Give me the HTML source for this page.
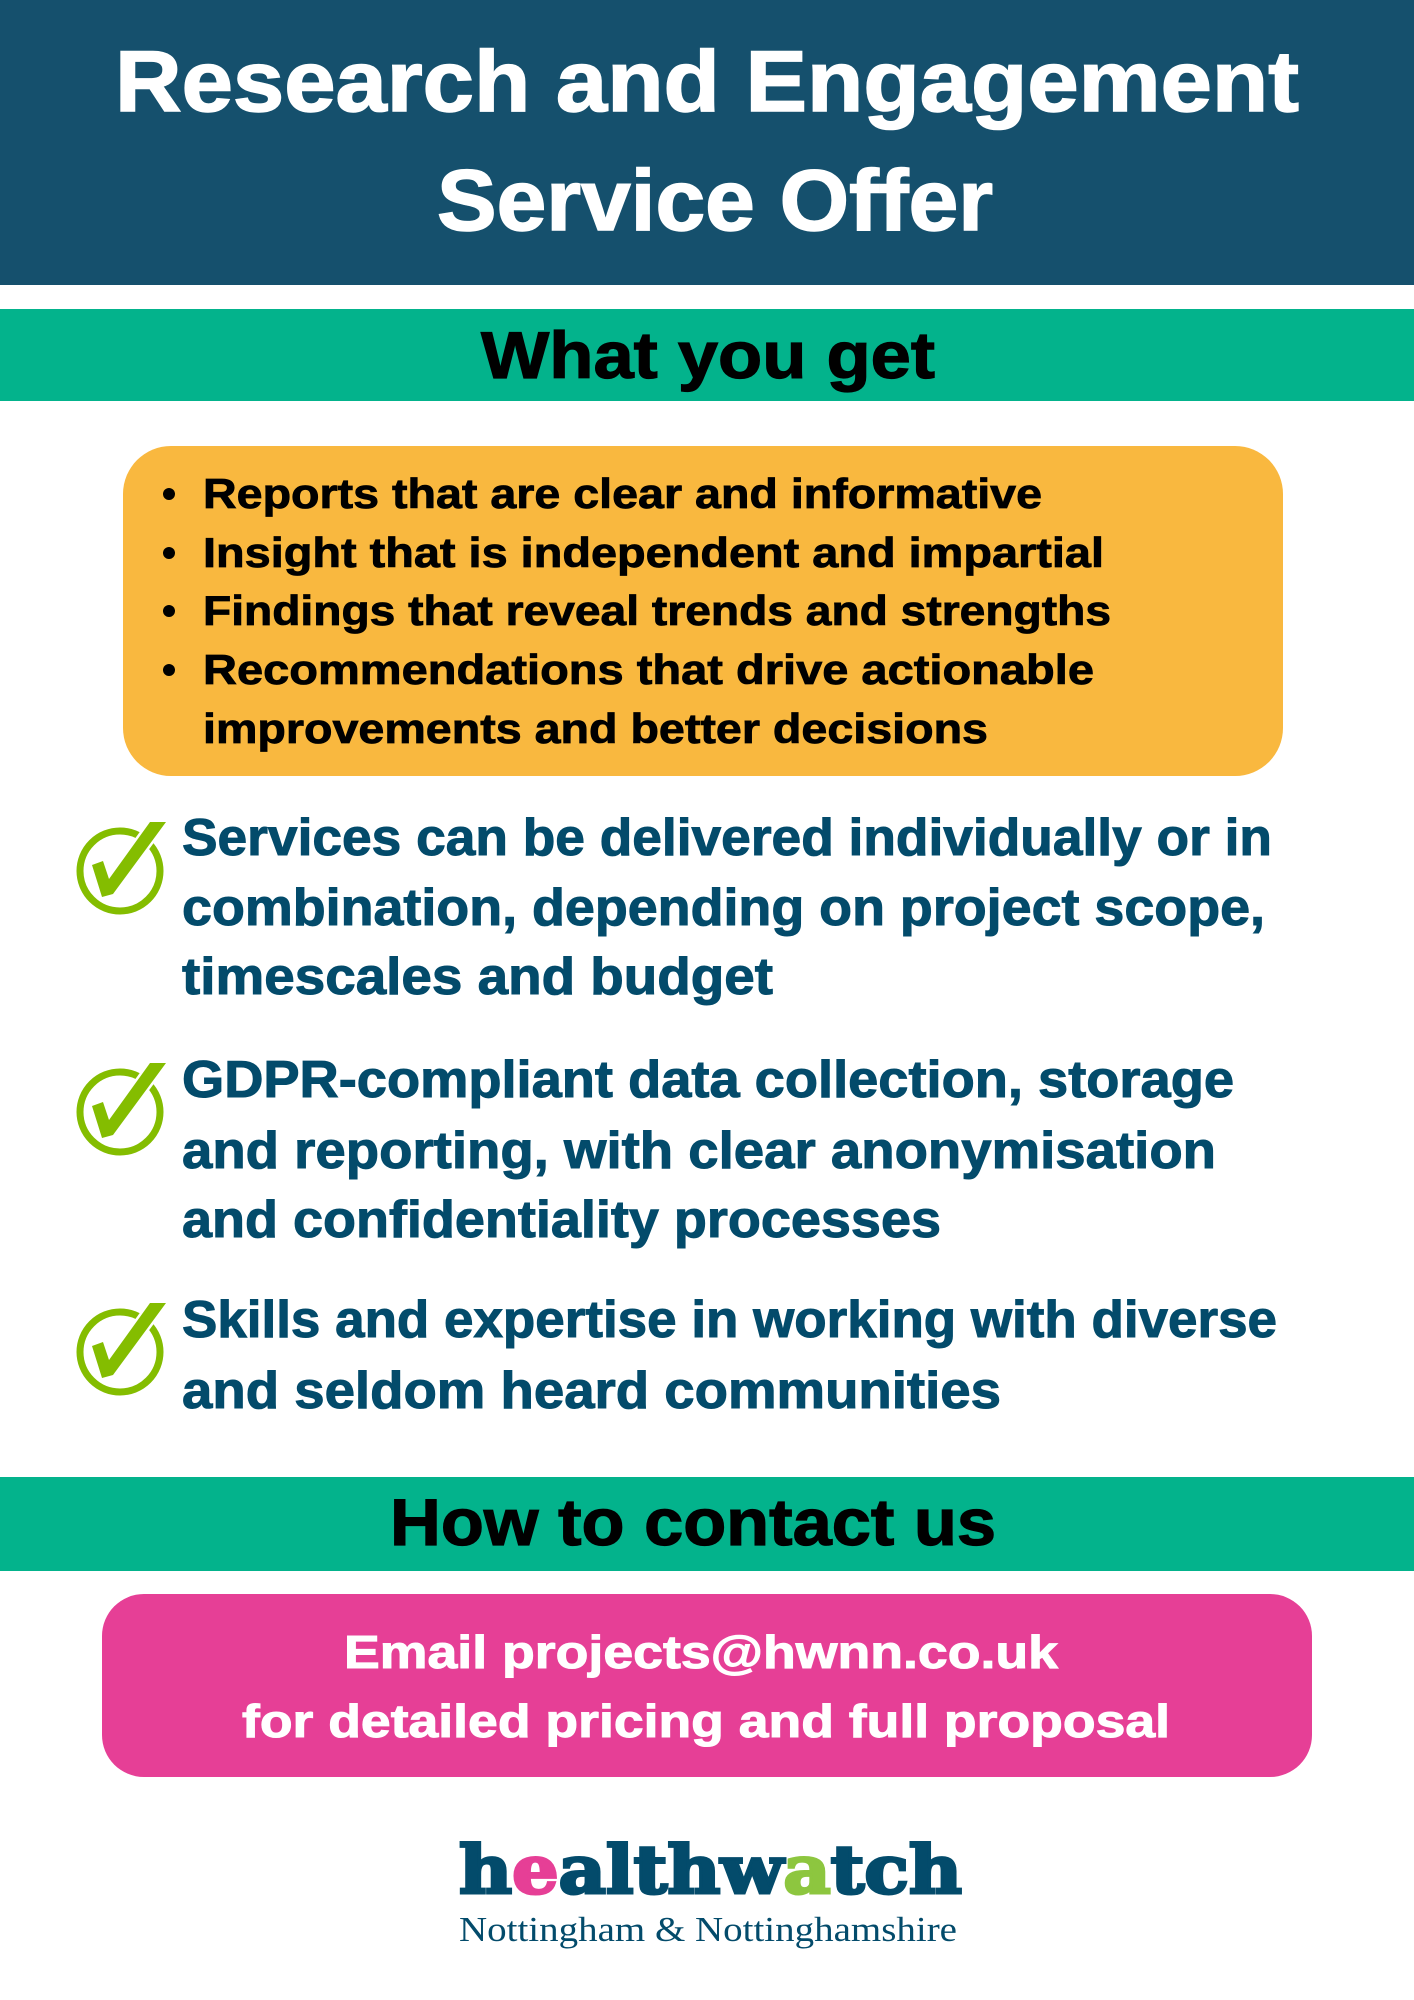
<!DOCTYPE html>
<html><head><meta charset="utf-8"><style>
html,body{margin:0;padding:0;background:#fff;}
svg{display:block;}
text{font-family:"Liberation Sans",sans-serif;font-weight:bold;}
</style></head><body>
<svg width="1414" height="2000" viewBox="0 0 1414 2000" xmlns="http://www.w3.org/2000/svg">
<defs>
<g id="chk">
<circle cx="120" cy="0" r="40" fill="none" stroke="#84bd00" stroke-width="7"/>
<polygon points="92,-6 103,-10 109,8 150,-49 166,-49 113,23 102,26" fill="#84bd00" stroke="#fff" stroke-width="5" paint-order="stroke" stroke-linejoin="round"/>
</g>
</defs>
<rect x="0" y="0" width="1414" height="285" fill="#15506d"/>
<g stroke="#fff" stroke-width="1.5">
<text x="707" y="111" font-size="86" fill="#fff" text-anchor="middle" textLength="1184" lengthAdjust="spacingAndGlyphs">Research and Engagement</text>
<text x="715" y="230" font-size="86" fill="#fff" text-anchor="middle" textLength="556" lengthAdjust="spacingAndGlyphs">Service Offer</text>
</g>

<rect x="0" y="309" width="1414" height="92" fill="#03b38c"/>
<text x="708" y="378" font-size="66" fill="#000" stroke="#000" stroke-width="1.2" text-anchor="middle" textLength="454" lengthAdjust="spacingAndGlyphs">What you get</text>

<rect x="123" y="446" width="1160" height="330" rx="48" fill="#f9b83f"/>
<g fill="#000">
<circle cx="169" cy="494" r="6"/><circle cx="169" cy="553" r="6"/><circle cx="169" cy="611" r="6"/><circle cx="169" cy="670" r="6"/>
</g>
<g font-size="42" fill="#000" stroke="#000" stroke-width="0.8">
<text x="203" y="508" textLength="839" lengthAdjust="spacingAndGlyphs">Reports that are clear and informative</text>
<text x="203" y="567" textLength="901" lengthAdjust="spacingAndGlyphs">Insight that is independent and impartial</text>
<text x="203" y="625" textLength="908" lengthAdjust="spacingAndGlyphs">Findings that reveal trends and strengths</text>
<text x="203" y="684" textLength="891" lengthAdjust="spacingAndGlyphs">Recommendations that drive actionable</text>
<text x="203" y="743" textLength="785" lengthAdjust="spacingAndGlyphs">improvements and better decisions</text>
</g>

<use href="#chk" transform="translate(0,871)"/>
<use href="#chk" transform="translate(0,1112)"/>
<use href="#chk" transform="translate(0,1352)"/>
<g font-size="52" fill="#034b6b" stroke="#034b6b" stroke-width="1">
<text x="182" y="855" textLength="1090" lengthAdjust="spacingAndGlyphs">Services can be delivered individually or in</text>
<text x="182" y="925" textLength="1083" lengthAdjust="spacingAndGlyphs">combination, depending on project scope,</text>
<text x="182" y="994" textLength="591" lengthAdjust="spacingAndGlyphs">timescales and budget</text>
<text x="182" y="1097" textLength="1052" lengthAdjust="spacingAndGlyphs">GDPR-compliant data collection, storage</text>
<text x="182" y="1168" textLength="1034" lengthAdjust="spacingAndGlyphs">and reporting, with clear anonymisation</text>
<text x="182" y="1237" textLength="759" lengthAdjust="spacingAndGlyphs">and confidentiality processes</text>
<text x="182" y="1337" textLength="1095" lengthAdjust="spacingAndGlyphs">Skills and expertise in working with diverse</text>
<text x="182" y="1408" textLength="819" lengthAdjust="spacingAndGlyphs">and seldom heard communities</text>
</g>

<rect x="0" y="1477" width="1414" height="94" fill="#03b38c"/>
<text x="693" y="1545" font-size="66" fill="#000" stroke="#000" stroke-width="1.2" text-anchor="middle" textLength="606" lengthAdjust="spacingAndGlyphs">How to contact us</text>

<rect x="102" y="1594" width="1210" height="183" rx="42" fill="#e63f96"/>
<g font-size="46" fill="#fff" stroke="#fff" stroke-width="1" text-anchor="middle">
<text x="701" y="1668" textLength="714" lengthAdjust="spacingAndGlyphs">Email projects@hwnn.co.uk</text>
<text x="706" y="1737" textLength="928" lengthAdjust="spacingAndGlyphs">for detailed pricing and full proposal</text>
</g>

<text x="459" y="1893" font-size="66" fill="#034b6b" stroke="#034b6b" stroke-width="3" style="font-family:'DejaVu Serif','Liberation Serif',serif;font-weight:bold" textLength="503" lengthAdjust="spacingAndGlyphs">h<tspan fill="#e63f96" stroke="#e63f96">e</tspan>althw<tspan fill="#8dc63f" stroke="#8dc63f">a</tspan>tch</text>
<text x="459" y="1941" font-size="35" fill="#034b6b" style="font-family:'Liberation Serif',serif;font-weight:normal" textLength="498" lengthAdjust="spacingAndGlyphs">Nottingham &amp; Nottinghamshire</text>
</svg>
</body></html>
